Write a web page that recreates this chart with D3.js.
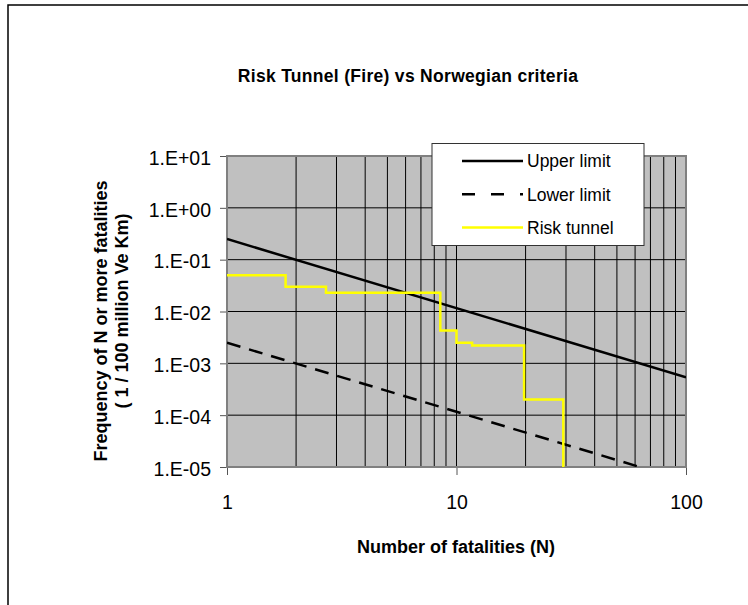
<!DOCTYPE html>
<html>
<head>
<meta charset="utf-8">
<script src="https://cdn.jsdelivr.net/npm/d3@7"></script>
<style>
  body { margin: 0; background: #fff; }
  svg text { font-family: "Liberation Sans", Arial, sans-serif; fill: #000; }
  .title { font-weight: bold; font-size: 17.5px; letter-spacing: 0.3px; }
  .label { font-weight: bold; font-size: 18px; }
  .tick-label { font-size: 19.5px; }
  .legend-text { font-size: 17.5px; }
</style>
</head>
<body>
<div id="container"></div>
<script>
// criteria lines (only the two end points, straight on log-log)
const limitN = [1, 100];
const upperLimit = [0.25, 0.00054];
const lowerLimit = [0.0025, 0.0000054];

// risk tunnel F-N curve (step)
const riskN = [1, 1.8, 2.7, 8.5, 10, 11.7, 19.7, 29.2];
const riskF = [0.05, 0.03, 0.023, 0.0043, 0.0025, 0.0022, 0.0002, 0.00001];

const xTicks = [1, 10, 100];
const yTicks = [1e1, 1e0, 1e-1, 1e-2, 1e-3, 1e-4, 1e-5];
const yTickLabels = ['1.E+01', '1.E+00', '1.E-01', '1.E-02', '1.E-03', '1.E-04', '1.E-05'];

const W = 748, H = 605;
const plot = { left: 227, right: 686, top: 156, bottom: 467 };

const svg = d3.select('#container').append('svg')
  .attr('width', W)
  .attr('height', H);

// chart area frame (runs off the picture right and bottom)
svg.append('rect')
  .attr('x', 8).attr('y', 5)
  .attr('width', W + 20).attr('height', H + 20)
  .attr('fill', '#fff')
  .attr('stroke', '#000')
  .attr('stroke-width', 1.5);

const x = d3.scaleLog()
  .domain([1, 100])
  .range([plot.left, plot.right]);

const y = d3.scaleLog()
  .domain([1e-5, 10])
  .range([plot.bottom, plot.top]);

// plot area background
svg.append('rect')
  .attr('x', plot.left).attr('y', plot.top)
  .attr('width', plot.right - plot.left)
  .attr('height', plot.bottom - plot.top)
  .attr('fill', '#c0c0c0');

svg.append('defs').append('clipPath')
  .attr('id', 'clip')
  .append('rect')
  .attr('x', plot.left).attr('y', plot.top)
  .attr('width', plot.right - plot.left)
  .attr('height', plot.bottom - plot.top);

// grid lines
const grid = svg.append('g').attr('class', 'grid');

grid.selectAll('line.v')
  .data(x.ticks())
  .enter()
  .append('line')
  .attr('x1', d => x(d)).attr('x2', d => x(d))
  .attr('y1', plot.top).attr('y2', plot.bottom)
  .attr('stroke', '#000')
  .attr('stroke-width', 1);

grid.selectAll('line.h')
  .data(yTicks)
  .enter()
  .append('line')
  .attr('x1', plot.left).attr('x2', plot.right)
  .attr('y1', d => y(d)).attr('y2', d => y(d))
  .attr('stroke', '#000')
  .attr('stroke-width', 1);

// axes
const yAxis = svg.append('g')
  .attr('transform', `translate(${plot.left},0)`)
  .call(d3.axisLeft(y)
    .tickValues(yTicks)
    .tickSize(7)
    .tickPadding(9)
    .tickFormat((d, i) => yTickLabels[i]));

const xAxis = svg.append('g')
  .attr('transform', `translate(0,${plot.bottom})`)
  .call(d3.axisBottom(x)
    .tickValues(xTicks)
    .tickSize(8)
    .tickPadding(20)
    .tickFormat(d3.format('d')));

[yAxis, xAxis].forEach(a => {
  a.select('.domain').remove();
  a.selectAll('.tick line').attr('stroke', '#555');
  a.selectAll('.tick text')
    .attr('class', 'tick-label')
    .attr('font-family', null)
    .attr('font-size', null);
});
yAxis.selectAll('.tick text').attr('dy', '0.42em');

// plot border
svg.append('rect')
  .attr('x', plot.left).attr('y', plot.top)
  .attr('width', plot.right - plot.left)
  .attr('height', plot.bottom - plot.top)
  .attr('fill', 'none')
  .attr('stroke', '#808080')
  .attr('stroke-width', 2);

// series
const lines = svg.append('g').attr('clip-path', 'url(#clip)');

const line = d3.line()
  .x(d => x(d[0]))
  .y(d => y(d[1]));

lines.append('path')
  .datum(limitN.map((n, i) => [n, upperLimit[i]]))
  .attr('d', line)
  .attr('fill', 'none')
  .attr('stroke', '#000')
  .attr('stroke-width', 2.5);

lines.append('path')
  .datum(limitN.map((n, i) => [n, lowerLimit[i]]))
  .attr('d', line)
  .attr('fill', 'none')
  .attr('stroke', '#000')
  .attr('stroke-width', 2.5)
  .attr('stroke-dasharray', '14,9');

lines.append('path')
  .datum(riskN.map((n, i) => [n, riskF[i]]))
  .attr('d', line.curve(d3.curveStepAfter))
  .attr('fill', 'none')
  .attr('stroke', '#ffff00')
  .attr('stroke-width', 2.5);

// legend
const legend = svg.append('g');
legend.append('rect')
  .attr('x', 432).attr('y', 143.5)
  .attr('width', 212).attr('height', 102)
  .attr('fill', '#fff')
  .attr('stroke', '#333')
  .attr('stroke-width', 1);

const legendItems = [
  { name: 'Upper limit', color: '#000', dash: null },
  { name: 'Lower limit', color: '#000', dash: '13,16' },
  { name: 'Risk tunnel', color: '#ffff00', dash: null }
];

const rowY = d3.scalePoint()
  .domain(legendItems.map(d => d.name))
  .range([161, 227.5]);

const rows = legend.selectAll('g.row')
  .data(legendItems)
  .enter()
  .append('g')
  .attr('transform', d => `translate(0,${rowY(d.name)})`);

rows.append('line')
  .attr('x1', 462).attr('x2', 523)
  .attr('stroke', d => d.color)
  .attr('stroke-width', 2.5)
  .attr('stroke-dasharray', d => d.dash);

rows.append('text')
  .attr('class', 'legend-text')
  .attr('x', 527)
  .attr('dy', '0.36em')
  .text(d => d.name);

// titles
svg.append('text')
  .attr('class', 'title')
  .attr('x', 408)
  .attr('y', 82)
  .attr('text-anchor', 'middle')
  .text('Risk Tunnel (Fire) vs Norwegian criteria');

svg.append('text')
  .attr('class', 'label')
  .attr('x', 456)
  .attr('y', 553)
  .attr('text-anchor', 'middle')
  .text('Number of fatalities (N)');

svg.append('text')
  .attr('class', 'label')
  .attr('transform', 'translate(107,321) rotate(-90)')
  .attr('text-anchor', 'middle')
  .text('Frequency of N or more fatalities');

svg.append('text')
  .attr('class', 'label')
  .attr('transform', 'translate(128,311) rotate(-90)')
  .attr('text-anchor', 'middle')
  .text('( 1 / 100 million Ve Km)');
</script>
</body>
</html>
